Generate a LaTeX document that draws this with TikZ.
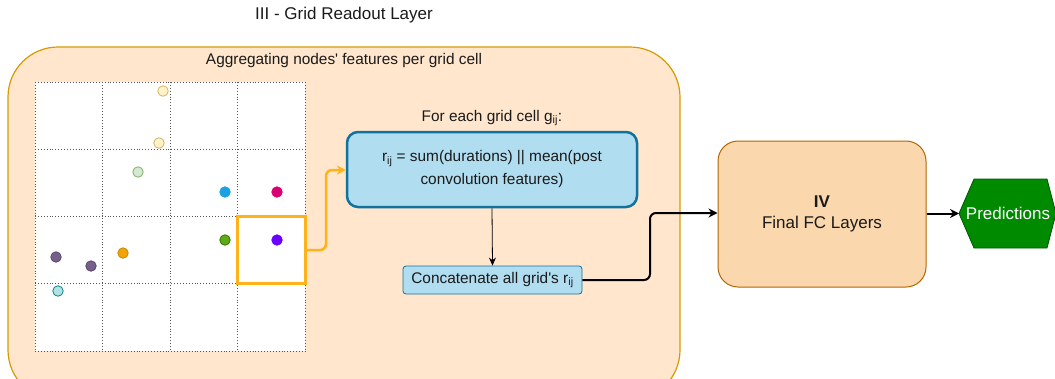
\documentclass[tikz,border=0pt]{standalone}
\usepackage{fontspec}
\setmainfont{Liberation Sans}
\usetikzlibrary{arrows.meta}
\definecolor{panelfill}{HTML}{FFE6CC}
\definecolor{panelline}{HTML}{D79B00}
\definecolor{cellline}{HTML}{555555}
\definecolor{hilite}{HTML}{FFB31A}
\definecolor{bluefill}{HTML}{B1DDF0}
\definecolor{blueline}{HTML}{10739E}
\definecolor{fcfill}{HTML}{FAD7AC}
\definecolor{fcline}{HTML}{B46504}
\definecolor{predfill}{HTML}{008A00}
\definecolor{predline}{HTML}{005700}
\definecolor{txt}{HTML}{1A1A1A}
% node colours
\definecolor{paleyf}{HTML}{FFF2CC}\definecolor{paleyd}{HTML}{D6B656}
\definecolor{palegf}{HTML}{D5E8D4}\definecolor{palegd}{HTML}{82B366}
\definecolor{bluef}{HTML}{1BA1E2}
\definecolor{magf}{HTML}{D80073}
\definecolor{greenf}{HTML}{60A917}\definecolor{greend}{HTML}{2D7600}
\definecolor{violf}{HTML}{6A00FF}
\definecolor{orf}{HTML}{F0A30A}\definecolor{ord}{HTML}{C98A00}
\definecolor{purf}{HTML}{76608A}\definecolor{purd}{HTML}{5A4870}
\definecolor{cyf}{HTML}{B0E3E6}\definecolor{cyd}{HTML}{0E8088}
\tikzset{
  body/.style={font=\fontsize{15.4}{23}\selectfont, text=txt},
  big/.style={font=\fontsize{17}{21}\selectfont, text=txt},
  dot/.style={circle, inner sep=0pt, minimum size=10.5pt, line width=0.8pt},
  cellbox/.style={draw=hilite, line width=3pt},
  flow/.style={-{Stealth[length=9pt,width=9pt]}, line width=2pt, rounded corners=6pt},
}
\begin{document}
\begin{tikzpicture}[x=1pt, y=-1pt]
\useasboundingbox (0,0) rectangle (1055,378);

% title
\node[big] (title) at (344,15) {III - Grid Readout Layer};

% readout panel
\begin{scope}
\clip (0,0) rectangle (1055,378);
\draw[panelline, fill=panelfill, line width=1.2pt, rounded corners=50pt]
  (8,47) rectangle (680,400);
\end{scope}
\node[body] (aggr) at (344,61) {Aggregating nodes\textquotesingle\ features per grid cell};

% 4x4 grid of cells
\fill[white] (35,82) rectangle (305,351);
\foreach \gx in {35,102.5,170,237.5,305}
  \draw[cellline, dotted, line width=0.9pt] (\gx,82) -- (\gx,351);
\foreach \gy in {82,149.25,216.5,283.75,351}
  \draw[cellline, dotted, line width=0.9pt] (35,\gy) -- (305,\gy);

% graph nodes scattered over the grid
\node[dot, fill=paleyf, draw=paleyd] (n1) at (163,91) {};
\node[dot, fill=paleyf, draw=paleyd] (n2) at (159,143) {};
\node[dot, fill=palegf, draw=palegd] (n3) at (138,172) {};
\node[dot, fill=bluef, draw=bluef] (n4) at (225,192) {};
\node[dot, fill=magf, draw=magf] (n5) at (277,192) {};
\node[dot, fill=greenf, draw=greend] (n6) at (225,240) {};
\node[dot, fill=violf, draw=violf] (n7) at (277,240) {};
\node[dot, fill=orf, draw=ord] (n8) at (123,253) {};
\node[dot, fill=purf, draw=purd] (n9) at (56,257) {};
\node[dot, fill=purf, draw=purd] (n10) at (91,266) {};
\node[dot, fill=cyf, draw=cyd] (n11) at (58,291) {};

% highlighted cell
\node[cellbox, minimum width=67.5pt, minimum height=67.25pt, inner sep=0pt] (cell) at (271.25,250.1) {};

% per-cell readout
\node[body] (foreach) at (492,118) {For each grid cell g\textsubscript{ij}:};
\node[body, draw=blueline, fill=bluefill, line width=2.5pt, rounded corners=11pt,
      minimum width=290pt, minimum height=75pt, align=center] (rij) at (492,169.5)
  {r\textsubscript{ij} = sum(durations) || mean(post\\convolution features)};
\node[body, draw=blueline, fill=bluefill, line width=0.8pt, rounded corners=3pt,
      minimum width=179pt, minimum height=28pt, inner sep=0pt] (concat) at (492.5,280)
  {Concatenate all grid\textquotesingle s r\textsubscript{ij}};

% final layers
\node[big, draw=fcline, fill=fcfill, line width=1pt, rounded corners=20pt,
      minimum width=208pt, minimum height=146pt, align=center] (fc) at (822,214)
  {\textbf{IV}\\Final FC Layers};
\coordinate (pl) at (959,213.5);
\draw[predline, fill=predfill, line width=0.8pt]
  (pl) -- (974,179) -- (1047,179) -- (1056,213.5) -- (1047,248) -- (974,248) -- cycle;
\node[big, text=white] (pred) at (1008,213.5) {Predictions};

% connectors
\draw[flow, hilite, line width=2.5pt] (cell.east |- 0,250) -- (326,250) -- (326,170) -- (rij.west |- 0,170);
\draw[-{Stealth[length=8pt,width=7pt]}, line width=0.8pt, black] (rij.south) -- (concat.north);
\draw[flow, black] (concat.east) -- (650,280) -- (650,213) -- (fc.west |- 0,213);
\draw[flow, black, rounded corners=0pt] (fc.east |- 0,213.5) -- (pl);
\end{tikzpicture}
\end{document}
